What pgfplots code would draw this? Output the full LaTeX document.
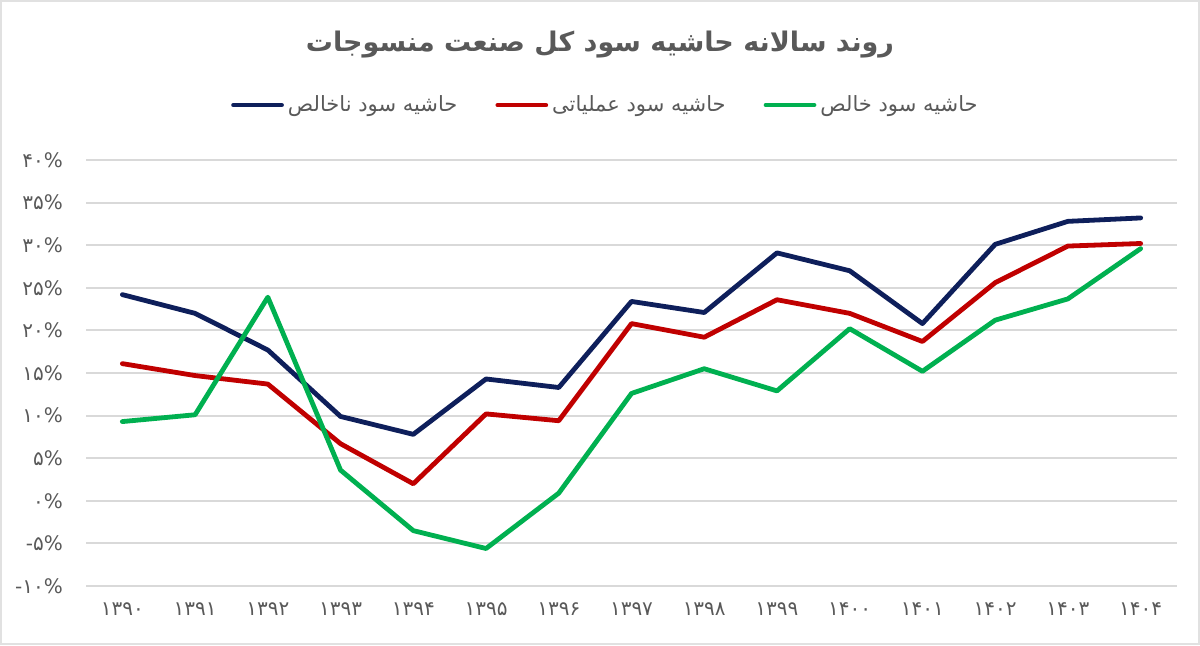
\documentclass[border=0pt]{standalone}
\usepackage{pgfplots}
\pgfplotsset{compat=1.18}
\usepackage{fontspec}
\setmainfont{DejaVu Sans}
\newfontfamily\arabicfont[Script=Arabic]{DejaVu Sans}
\TeXXeTstate=1
\definecolor{txtgray}{HTML}{595959}
\definecolor{gridgray}{HTML}{D9D9D9}
\definecolor{navy}{HTML}{0E1F5B}
\definecolor{cred}{HTML}{C00000}
\definecolor{cgreen}{HTML}{00B050}
\pgfplotstableread{
x gross oper net
0 24.2 16.1 9.3
1 22.0 14.7 10.1
2 17.7 13.7 23.9
3 9.9 6.7 3.6
4 7.8 2.0 -3.5
5 14.3 10.2 -5.6
6 13.3 9.4 0.9
7 23.4 20.8 12.6
8 22.1 19.2 15.5
9 29.1 23.6 12.9
10 27.0 22.0 20.2
11 20.8 18.7 15.2
12 30.1 25.6 21.2
13 32.8 29.9 23.7
14 33.2 30.2 29.6
}\datatable
\begin{document}
\begin{tikzpicture}
\path[use as bounding box] (0,0) rectangle (600pt,322.5pt);
\draw[gridgray!80, line width=1pt] (0.5pt,0.5pt) rectangle (599.5pt,322pt);
\node[text=txtgray, font=\arabicfont\bfseries\fontsize{13.5}{16}\selectfont] at (300pt,300pt) {\beginR روند سالانه حاشیه سود کل صنعت منسوجات\endR};
\begin{axis}[
  at={(43pt,29.5pt)}, anchor=south west,
  scale only axis, width=545.5pt, height=213pt,
  xmin=-0.5, xmax=14.5, ymin=-10, ymax=40,
  axis line style={draw=none},
  major tick length=0pt,
  xtick={0,...,14},
  xticklabels={۱۳۹۰,۱۳۹۱,۱۳۹۲,۱۳۹۳,۱۳۹۴,۱۳۹۵,۱۳۹۶,۱۳۹۷,۱۳۹۸,۱۳۹۹,۱۴۰۰,۱۴۰۱,۱۴۰۲,۱۴۰۳,۱۴۰۴},
  ytick={-10,-5,...,40},
  yticklabels={\hbox{-}\hbox{۱۰\%},\hbox{-}\hbox{۵\%},۰\%,۵\%,۱۰\%,۱۵\%,۲۰\%,۲۵\%,۳۰\%,۳۵\%,۴۰\%},
  ymajorgrids,
  grid style={gridgray, line width=1pt},
  ticklabel style={text=txtgray, font=\arabicfont\fontsize{10}{12}\selectfont},
  yticklabel style={xshift=-8pt},
  xticklabel style={yshift=-5pt},
  legend columns=3,
  legend style={at={(0.477,1.129)}, anchor=center, draw=none, fill=none,
    font=\arabicfont\fontsize{10.5}{12}\selectfont, text=txtgray,
    /tikz/every even column/.append style={column sep=17pt},
    inner sep=0pt},
  legend image code/.code={\draw[#1] (0pt,0pt) -- (24pt,0pt);},
  every axis plot/.append style={line width=2.4pt, line join=round, line cap=round, mark=none},
]
\addplot[navy] table[x=x,y=gross] {\datatable};
\addlegendentry{\beginR حاشیه سود ناخالص\endR}
\addplot[cred] table[x=x,y=oper] {\datatable};
\addlegendentry{\beginR حاشیه سود عملیاتی\endR}
\addplot[cgreen] table[x=x,y=net] {\datatable};
\addlegendentry{\beginR حاشیه سود خالص\endR}
\end{axis}
\end{tikzpicture}
\end{document}
